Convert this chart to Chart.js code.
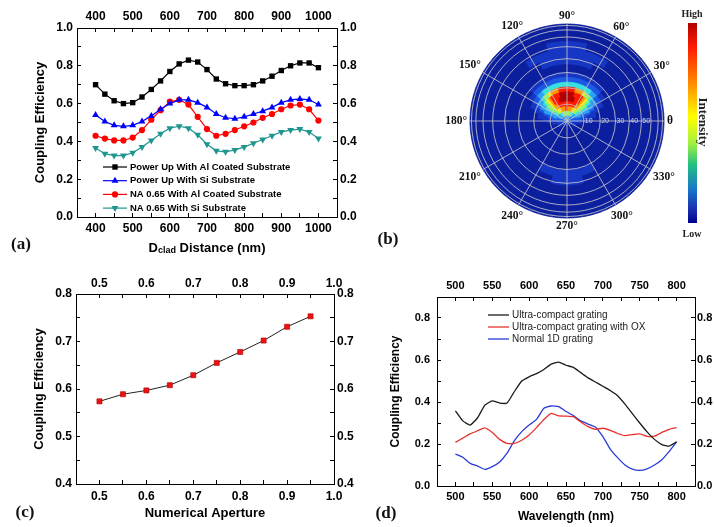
<!DOCTYPE html>
<html lang="en">
<head>
<meta charset="UTF-8">
<title>Coupling efficiency figure</title>
<script src="https://cdn.jsdelivr.net/npm/chart.js"></script>
<style>
  html, body { margin: 0; padding: 0; background: #fff; overflow: hidden; }
  body { width: 714px; height: 527px; position: relative; }
  canvas { position: absolute; }
  .tag { position: absolute; font-family: "Liberation Serif", "Times New Roman", serif; font-weight: bold;
         font-size: 17px; transform: translate(-50%, -50%); white-space: nowrap; color: #111; }
  .cb-text { position: absolute; font-family: "Liberation Serif", "Times New Roman", serif; font-weight: bold;
             color: #222; transform: translate(-50%, -50%); white-space: nowrap; }
  #colorbar { position: absolute; left: 688px; top: 23px; width: 9px; height: 200px;
              background: linear-gradient(to bottom, #b00000 0%, #ff1a00 12%, #ff8a00 30%, #ffff00 47%,
              #a6f040 60%, #20c080 71%, #1878c8 83%, #1830b0 93%, #000090 100%); }
</style>
</head>
<body>
<canvas id="chartA" width="360" height="262" style="left:0;top:0"></canvas>
<canvas id="chartB" width="290" height="250" style="left:420px;top:0"></canvas>
<canvas id="chartC" width="360" height="265" style="left:0;top:262px"></canvas>
<canvas id="chartD" width="360" height="265" style="left:360px;top:262px"></canvas>

<div id="colorbar"></div>
<div class="cb-text" style="left:692px;top:13px;font-size:10px">High</div>
<div class="cb-text" style="left:692px;top:233px;font-size:10px">Low</div>
<div class="cb-text" style="left:703px;top:122px;font-size:13px;transform:translate(-50%,-50%) rotate(90deg)">Intensity</div>

<div class="tag" style="left:21px;top:244px">(a)</div>
<div class="tag" style="left:388px;top:239px">(b)</div>
<div class="tag" style="left:25px;top:512px">(c)</div>
<div class="tag" style="left:386px;top:513px">(d)</div>

<script>
// ---- data ----
// (a) coupling efficiency vs cladding distance
const dClad = [400, 425, 450, 475, 500, 525, 550, 575, 600, 625, 650, 675, 700,
               725, 750, 775, 800, 825, 850, 875, 900, 925, 950, 975, 1000];
const powerUpAl = [0.70, 0.65, 0.615, 0.60, 0.605, 0.635, 0.675, 0.72, 0.77, 0.81, 0.83, 0.82, 0.78,
                   0.73, 0.705, 0.695, 0.695, 0.70, 0.72, 0.745, 0.775, 0.80, 0.815, 0.815, 0.79];
const powerUpSi = [0.54, 0.505, 0.485, 0.48, 0.485, 0.505, 0.535, 0.57, 0.60, 0.62, 0.62, 0.605, 0.58,
                   0.545, 0.525, 0.52, 0.53, 0.545, 0.56, 0.58, 0.605, 0.62, 0.625, 0.62, 0.595];
const na065Al = [0.43, 0.415, 0.405, 0.405, 0.42, 0.46, 0.515, 0.565, 0.61, 0.62, 0.595, 0.53, 0.465,
                 0.43, 0.44, 0.46, 0.48, 0.50, 0.525, 0.545, 0.57, 0.59, 0.595, 0.57, 0.51];
const na065Si = [0.365, 0.335, 0.325, 0.325, 0.34, 0.37, 0.405, 0.44, 0.47, 0.48, 0.47, 0.435, 0.385,
                 0.35, 0.345, 0.355, 0.37, 0.39, 0.41, 0.43, 0.45, 0.46, 0.465, 0.45, 0.415];
const aLegend = ['Power Up With Al Coated Substrate', 'Power Up With Si Substrate',
                 'NA 0.65 With Al Coated Substrate', 'NA 0.65 With Si Substrate'];

// (b) far-field intensity on a polar grid: one string per ring (centre outwards),
// 72 sectors of 5 deg from 0 deg counter-clockwise, written as four quarters, level 0..9
const Q = '000000000000000000';
const ringOuter = [0.05, 0.10, 0.15, 0.20, 0.25, 0.30, 0.35, 0.40, 0.45, 0.50, 0.58, 0.66, 0.74, 0.82, 0.91, 1.0];
const heatRings = [
  ['222222222333333333', '333333333222222222', '222222111111111111', '111111111111222222'].join(''),
  ['222233333444455555', '555554444333332222', '211111110000000000', '000000000011111112'].join(''),
  ['222333445566677778', '877776665544333222', '111000000000000000', '000000000000000111'].join(''),
  ['112233455677888888', '888888776554332211', '100000000000000000', '000000000000000001'].join(''),
  ['111233455678889999', '999988876554332111', Q, Q].join(''),
  ['011123345678888999', '999888876543321110', Q, Q].join(''),
  ['000112334556777888', '888777655433211000', Q, Q].join(''),
  ['000011223344444444', '444444443322110000', Q, Q].join(''),
  ['000000112222222222', '222222222211000000', Q, Q].join(''),
  ['000000001111111111', '111111111100000000', Q, Q].join(''),
  [Q, Q, '000000000000111111', '111111000000000000'].join(''),
  ['000000000000011111', '111110000000000000', '000000000000000111', '111000000000000000'].join(''),
  ['000000000001111111', '111111100000000000', Q, Q].join(''),
  ['000000000000000111', '111000000000000000', Q, Q].join(''),
  [Q, Q, Q, Q].join(''),
  [Q, Q, Q, Q].join('')
];
const heatPalette = ['#0c1f9e', '#1636c4', '#1e5ae6', '#2ea2f2', '#38e2e0',
                     '#98f26a', '#f4ee22', '#ff9600', '#ff1a00', '#b40000'];
const thetaLabels = ['θ', '30°', '60°', '90°', '120°', '150°', '180°', '210°', '240°', '270°', '300°', '330°'];
const gridAngles = [10, 20, 30, 40, 50, 60, 70, 80];
const radialTickLabels = [10, 20, 30, 40, 50];

// (c) coupling efficiency vs NA
const numAperture = [0.5, 0.55, 0.6, 0.65, 0.7, 0.75, 0.8, 0.85, 0.9, 0.95];
const naEfficiency = [0.574, 0.589, 0.597, 0.608, 0.629, 0.655, 0.678, 0.702, 0.731, 0.753];

// (d) coupling efficiency spectra
const wavelength = [500, 510, 520, 530, 540, 550, 560, 570, 580, 590, 600, 610, 620, 630, 640, 650,
                    660, 670, 680, 690, 700, 710, 720, 730, 740, 750, 760, 770, 780, 790, 800];
const ultraCompact = [0.358, 0.31, 0.29, 0.325, 0.385, 0.405, 0.395, 0.395, 0.45, 0.50, 0.52, 0.535, 0.555, 0.58, 0.59, 0.575,
                      0.565, 0.54, 0.515, 0.495, 0.475, 0.455, 0.43, 0.39, 0.345, 0.30, 0.258, 0.222, 0.197, 0.19, 0.21];
const ultraCompactOX = [0.208, 0.228, 0.248, 0.263, 0.277, 0.255, 0.222, 0.203, 0.203, 0.218, 0.243, 0.278, 0.317, 0.346, 0.334, 0.333,
                        0.33, 0.305, 0.283, 0.27, 0.275, 0.265, 0.25, 0.24, 0.245, 0.248, 0.236, 0.237, 0.255, 0.27, 0.278];
const normal1D = [0.152, 0.137, 0.108, 0.095, 0.079, 0.092, 0.114, 0.156, 0.216, 0.259, 0.29, 0.317, 0.37, 0.381, 0.378, 0.355,
                  0.335, 0.31, 0.295, 0.28, 0.235, 0.176, 0.135, 0.10, 0.08, 0.074, 0.082, 0.10, 0.125, 0.165, 0.21];
const dLegend = ['Ultra-compact grating', 'Ultra-compact grating with OX', 'Normal 1D grating'];

// ---- helpers ----
const FONT = 'Arial, "Liberation Sans", sans-serif';
const SERIF = '"Liberation Serif", "Times New Roman", serif';
Chart.defaults.font.family = FONT;
Chart.defaults.color = '#000';

function withMinors(majors) {
  const out = [];
  majors.forEach((v, i) => {
    out.push(v);
    if (i < majors.length - 1) out.push((v + majors[i + 1]) / 2);
  });
  return out;
}

function pairs(xs, ys) {
  return xs.map((x, i) => ({ x: x, y: ys[i] }));
}

// one side of the boxed frame, ticks pointing inwards
function frameScale(pos, min, max, majors, fmt, size, pad, fontSize, title) {
  const horizontal = pos === 'top' || pos === 'bottom';
  const all = withMinors(majors);
  return {
    type: 'linear', position: pos, min: min, max: max,
    afterBuildTicks: s => { s.ticks = all.map(v => ({ value: v })); },
    afterFit: s => { if (horizontal) s.height = size; else s.width = size; },
    grid: { drawOnChartArea: false, color: '#000', tickLength: -4, lineWidth: 1 },
    border: { color: '#000', width: 1 },
    ticks: {
      autoSkip: false, maxRotation: 0, padding: pad, color: '#000',
      font: { size: fontSize, weight: 'bold' },
      callback: v => majors.some(m => Math.abs(m - v) < 1e-9) ? fmt(v) : ''
    },
    title: title
      ? { display: true, text: title.text, padding: 0, color: '#000',
          font: { size: title.size, weight: 'bold', lineHeight: 1 } }
      : { display: false }
  };
}

function baseOptions(padding, scales, extra) {
  return {
    responsive: false, animation: false, events: [],
    layout: { padding: padding, autoPadding: false },
    plugins: Object.assign({ legend: { display: false }, tooltip: { enabled: false } }, extra || {}),
    scales: scales
  };
}

// Origin style legend: line with the marker on it, then the text
const lineLegend = {
  id: 'lineLegend',
  afterDraw(chart, args, o) {
    const ctx = chart.ctx;
    ctx.save();
    chart.data.datasets.forEach((ds, i) => {
      const y = o.y0 + i * o.dy;
      ctx.strokeStyle = ds.borderColor;
      ctx.lineWidth = ds.borderWidth;
      ctx.beginPath();
      ctx.moveTo(o.x0, y);
      ctx.lineTo(o.x1, y);
      ctx.stroke();
      if (ds.pointRadius > 0) {
        ctx.fillStyle = ds.pointBackgroundColor;
        ctx.strokeStyle = ds.pointBorderColor;
        Chart.helpers.drawPoint(ctx, {
          pointStyle: ds.pointStyle, rotation: ds.pointRotation || 0,
          radius: ds.pointRadius, borderWidth: ds.pointBorderWidth || 0
        }, (o.x0 + o.x1) / 2, y);
      }
      ctx.fillStyle = o.color;
      ctx.font = o.font;
      ctx.textAlign = 'left';
      ctx.textBaseline = 'middle';
      ctx.fillText(o.labels[i], o.xText, y);
    });
    ctx.restore();
  }
};

function markerSet(label, color, style, radius, rotation) {
  return {
    label: label, borderColor: color, borderWidth: 1.2,
    pointStyle: style, pointRadius: radius, pointRotation: rotation || 0,
    pointBackgroundColor: color, pointBorderColor: color, pointBorderWidth: 0,
    tension: 0
  };
}

// ---- (a) ----
const cladTitle = {
  id: 'cladTitle',
  afterDraw(chart) {
    const ctx = chart.ctx, a = chart.chartArea;
    const big = 'bold 13px ' + FONT, small = 'bold 9px ' + FONT;
    const parts = [['D', big, 0], ['clad', small, 2.5], [' Distance (nm)', big, 0]];
    ctx.save();
    ctx.fillStyle = '#000';
    ctx.textBaseline = 'middle';
    ctx.textAlign = 'left';
    let w = 0;
    parts.forEach(p => { ctx.font = p[1]; w += ctx.measureText(p[0]).width; });
    let x = (a.left + a.right) / 2 - w / 2;
    parts.forEach(p => { ctx.font = p[1]; ctx.fillText(p[0], x, 248 + p[2]); x += ctx.measureText(p[0]).width; });
    ctx.restore();
  }
};

const aMajorX = [400, 500, 600, 700, 800, 900, 1000];
const aMajorY = [0, 0.2, 0.4, 0.6, 0.8, 1.0];
const fixed1 = v => v.toFixed(1);
const whole = v => String(Math.round(v));

new Chart(document.getElementById('chartA'), {
  type: 'line',
  data: {
    datasets: [
      Object.assign(markerSet(aLegend[0], '#000000', 'rect', 3.8), { data: pairs(dClad, powerUpAl) }),
      Object.assign(markerSet(aLegend[1], '#0000ff', 'triangle', 4), { data: pairs(dClad, powerUpSi) }),
      Object.assign(markerSet(aLegend[2], '#ff0000', 'circle', 3.1), { data: pairs(dClad, na065Al) }),
      Object.assign(markerSet(aLegend[3], '#1e968f', 'triangle', 4, 180), { data: pairs(dClad, na065Si) })
    ]
  },
  options: baseOptions({ left: 33.5, top: 0, right: 0, bottom: 7 }, {
    x: frameScale('bottom', 350, 1050, aMajorX, whole, 38, 8.8, 12),
    x2: frameScale('top', 350, 1050, aMajorX, whole, 28, 7.8, 12),
    y: frameScale('left', 0, 1, aMajorY, fixed1, 43.5, 8, 12, { text: 'Coupling Efficiency', size: 13 }),
    y2: frameScale('right', 0, 1, aMajorY, fixed1, 23, 7, 12)
  }, {
    lineLegend: { x0: 103, x1: 127, xText: 130, y0: 167, dy: 13.7, labels: aLegend,
                  font: 'bold 9.5px ' + FONT, color: '#000' }
  }),
  plugins: [lineLegend, cladTitle]
});

// ---- (b) ----
const sectorCount = heatRings[0].length;
const sectorStep = 360 / sectorCount;
const sectorNames = heatRings[0].split('').map((c, i) => String(360 - i * sectorStep));

const polarText = {
  id: 'polarText',
  afterDraw(chart) {
    const s = chart.scales.r, ctx = chart.ctx, R = s.drawingArea;
    ctx.save();
    ctx.font = 'bold 11.5px ' + SERIF;
    ctx.fillStyle = '#111';
    ctx.textAlign = 'center';
    ctx.textBaseline = 'middle';
    thetaLabels.forEach((txt, j) => {
      const deg = j * 30;
      const idx = ((360 - deg) % 360) / sectorStep;
      const rad = deg * Math.PI / 180;
      const w = ctx.measureText(txt).width;
      const d = R + 3 + w / 2 * Math.abs(Math.cos(rad)) + 5 * Math.abs(Math.sin(rad));
      const p = s.getPointPosition(idx, d);
      ctx.fillText(txt, p.x, p.y);
    });
    ctx.font = '7px ' + FONT;
    ctx.fillStyle = 'rgba(225,225,225,0.9)';
    ctx.textAlign = 'left';
    radialTickLabels.forEach(a => {
      const p = s.getPointPosition(0, s.getDistanceFromCenterForValue(Math.sin(a * Math.PI / 180)) + 1);
      ctx.fillText(String(a), p.x, p.y + 0.5);
    });
    ctx.restore();
  }
};

new Chart(document.getElementById('chartB'), {
  type: 'polarArea',
  data: {
    labels: sectorNames,
    datasets: ringOuter.map((r, k) => {
      // chart.js runs clockwise from the east, the strings run counter-clockwise
      const cols = sectorNames.map((n, i) => heatPalette[+heatRings[k][sectorCount - 1 - i]]);
      return {
        data: sectorNames.map(() => r),
        backgroundColor: cols, borderColor: cols, borderWidth: 0.8
      };
    })
  },
  options: {
    responsive: false, animation: false, events: [],
    layout: { padding: { left: 50, top: 24, right: 46, bottom: 32 }, autoPadding: false },
    plugins: { legend: { display: false }, tooltip: { enabled: false } },
    scales: {
      r: {
        min: 0, max: 1, startAngle: 90,
        afterBuildTicks: s => {
          s.ticks = [0].concat(gridAngles.map(a => Math.sin(a * Math.PI / 180))).map(v => ({ value: v }));
        },
        grid: { circular: true, color: 'rgba(195,195,205,0.85)', lineWidth: 1, z: 1 },
        angleLines: { display: true, color: 'rgba(195,195,205,0.85)',
                      lineWidth: c => (c.index * sectorStep) % 30 === 0 ? 1 : 0 },
        pointLabels: { display: false },
        ticks: { display: false, z: 1 }
      }
    }
  },
  plugins: [polarText]
});

// ---- (c) ----
const cMajorX = [0.5, 0.6, 0.7, 0.8, 0.9, 1.0];
const cMajorY = [0.4, 0.5, 0.6, 0.7, 0.8];

new Chart(document.getElementById('chartC'), {
  type: 'line',
  data: {
    datasets: [{
      data: pairs(numAperture, naEfficiency),
      borderColor: '#222', borderWidth: 1, tension: 0,
      pointStyle: 'rect', pointRadius: 3.6,
      pointBackgroundColor: '#ee1111', pointBorderColor: '#b00000', pointBorderWidth: 0.6
    }]
  },
  options: baseOptions({ left: 32.5, top: 0, right: 0, bottom: 7.5 }, {
    x: frameScale('bottom', 0.45, 1.0, cMajorX, fixed1, 35.5, 9.8, 12, { text: 'Numerical Aperture', size: 13 }),
    x2: frameScale('top', 0.45, 1.0, cMajorX, fixed1, 32, 6.8, 12),
    y: frameScale('left', 0.4, 0.8, cMajorY, fixed1, 43.5, 8, 12, { text: 'Coupling Efficiency', size: 13 }),
    y2: frameScale('right', 0.4, 0.8, cMajorY, fixed1, 26, 7, 12)
  })
});

// ---- (d) ----
const dMajorX = [500, 550, 600, 650, 700, 750, 800];
const dMajorY = [0, 0.2, 0.4, 0.6, 0.8];
const spectrum = (label, color, ys) => ({
  label: label, data: pairs(wavelength, ys), borderColor: color, borderWidth: 1.3,
  pointRadius: 0, tension: 0.15
});

new Chart(document.getElementById('chartD'), {
  type: 'line',
  data: {
    datasets: [
      spectrum(dLegend[0], '#1a1a1a', ultraCompact),
      spectrum(dLegend[1], '#e8322c', ultraCompactOX),
      spectrum(dLegend[2], '#2b3bd6', normal1D)
    ]
  },
  options: baseOptions({ left: 30, top: 0, right: 0, bottom: 4 }, {
    x: frameScale('bottom', 475, 825, dMajorX, whole, 37, 8.4, 11, { text: 'Wavelength (nm)', size: 12 }),
    x2: frameScale('top', 475, 825, dMajorX, whole, 35, 8.4, 11),
    y: frameScale('left', 0, 0.9, dMajorY, fixed1, 47, 11, 11, { text: 'Coupling Efficiency', size: 12 }),
    y2: frameScale('right', 0, 0.9, dMajorY, fixed1, 25, 6, 11)
  }, {
    lineLegend: { x0: 128, x1: 149, xText: 152, y0: 53, dy: 12, labels: dLegend,
                  font: '10px ' + FONT, color: '#222' }
  }),
  plugins: [lineLegend]
});
</script>
</body>
</html>
